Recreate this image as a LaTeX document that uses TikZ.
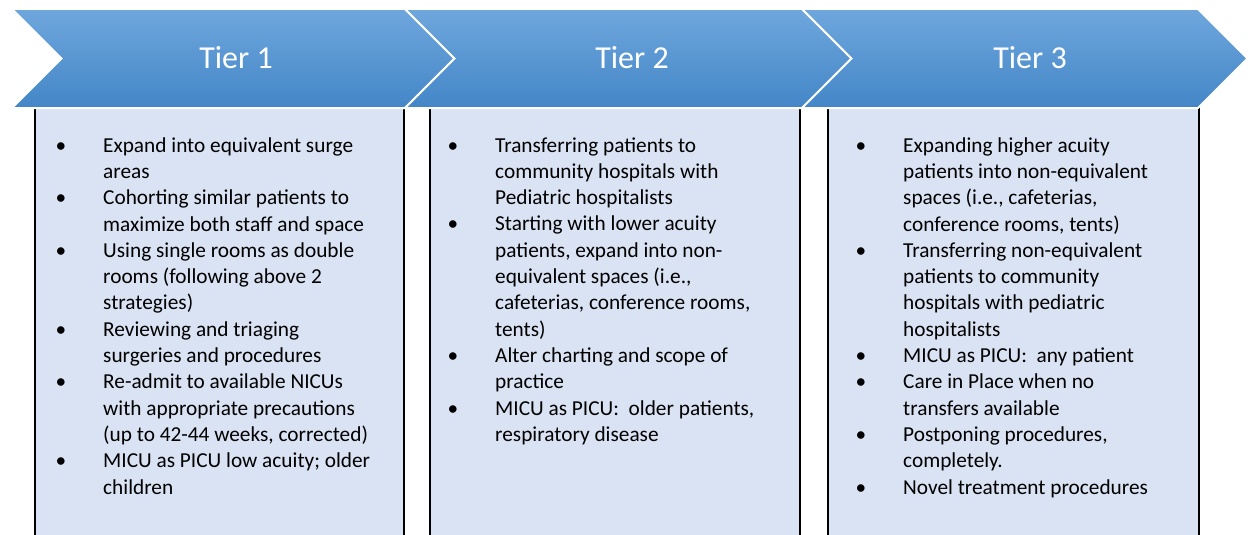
\documentclass[tikz,border=0pt]{standalone}
\usepackage{fontspec}
\setmainfont{Carlito}

\definecolor{tiertop}{HTML}{6FA7DD}
\definecolor{tiermid}{HTML}{5299DB}
\definecolor{tierbot}{HTML}{4386C7}
\definecolor{boxfill}{HTML}{DAE3F3}

\tikzset{
	chev/.style={top color=tiertop, middle color=tiermid, bottom color=tierbot, draw=white, line width=2pt},
	tierbox/.style={fill=boxfill, draw=black, line width=2pt},
	tiertitle/.style={text=white, font=\fontsize{32}{38}\selectfont},
	tiertext/.style={anchor=base west, inner sep=0pt, align=left, font=\fontsize{21.3}{26.3}\selectfont},
}
\newcommand{\bul}{\llap{\textbullet\hspace{37pt}}}

\begin{document}
\begin{tikzpicture}[x=1pt,y=-1pt]
	\clip (0,0) rectangle (1248,535);
	
	% boxes under the arrows
	\draw[tierbox] (35,87) rectangle (404,560);
	\draw[tierbox] (430,87) rectangle (800,560);
	\draw[tierbox] (828,87) rectangle (1199,560);
	
	% arrows
	\path[chev] (12,9) -- (405,9) -- (454.5,58.5) -- (405,108) -- (12,108) -- (61.5,58.5) -- cycle;
	\path[chev] (405,9) -- (802,9) -- (851.5,58.5) -- (802,108) -- (405,108) -- (454.5,58.5) -- cycle;
	\path[chev] (802,9) -- (1198,9) -- (1247.5,58.5) -- (1198,108) -- (802,108) -- (851.5,58.5) -- cycle;
	
	\node[tiertitle] (tier1) at (236,58) {Tier 1};
	\node[tiertitle] (tier2) at (632,58) {Tier 2};
	\node[tiertitle] (tier3) at (1030,58) {Tier 3};
	
	% base anchor sits on the last line
	\node[tiertext] (list1) at (103,494) {\bul Expand into equivalent surge\\
		areas\\
		\bul Cohorting similar patients to\\
		maximize both staff and space\\
		\bul Using single rooms as double\\
		rooms (following above 2\\
		strategies)\\
		\bul Reviewing and triaging\\
		surgeries and procedures\\
		\bul Re-admit to available NICUs\\
		with appropriate precautions\\
		(up to 42-44 weeks, corrected)\\
		\bul MICU as PICU low acuity; older\\
		children};
	
	\node[tiertext] (list2) at (495,441.3) {\bul Transferring patients to\\
		community hospitals with\\
		Pediatric hospitalists\\
		\bul Starting with lower acuity\\
		patients, expand into non-\\
		equivalent spaces (i.e.,\\
		cafeterias, conference rooms,\\
		tents)\\
		\bul Alter charting and scope of\\
		practice\\
		\bul MICU as PICU:~ older patients,\\
		respiratory disease};
	
	\node[tiertext] (list3) at (903,494) {\bul Expanding higher acuity\\
		patients into non-equivalent\\
		spaces (i.e., cafeterias,\\
		conference rooms, tents)\\
		\bul Transferring non-equivalent\\
		patients to community\\
		hospitals with pediatric\\
		hospitalists\\
		\bul MICU as PICU:~ any patient\\
		\bul Care in Place when no\\
		transfers available\\
		\bul Postponing procedures,\\
		completely.\\
		\bul Novel treatment procedures};
\end{tikzpicture}
\end{document}
